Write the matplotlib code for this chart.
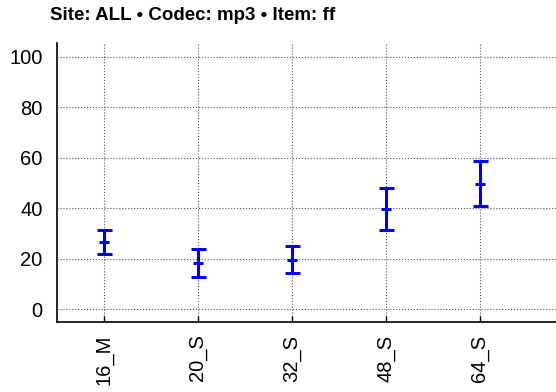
import numpy as np
import matplotlib.pyplot as plt

# data
labels = ["16_M", "20_S", "32_S", "48_S", "64_S"]
means  = [26.6, 18.2, 19.6, 39.6, 49.8]
lower  = [22.1, 12.9, 14.5, 31.6, 41.0]
upper  = [31.3, 24.0, 25.2, 48.1, 58.8]

plt.rcParams['font.family'] = ['Liberation Sans', 'DejaVu Sans']

x = np.arange(len(labels))
m = np.array(means)
err = [m - np.array(lower), np.array(upper) - m]

fig = plt.figure(figsize=(5.56, 3.92), dpi=100)
ax = fig.add_axes([57/556, 1 - 322/392, 1 - 57/556, (322 - 43)/392])

ax.errorbar(x, m, yerr=err, fmt='none', ecolor='#0000ff', elinewidth=2.2,
            capsize=5.4, capthick=2.2, zorder=3)
ax.plot(x, m, ls='none', marker='_', ms=6.5, mew=2.2, color='#0000ff', zorder=3)

ax.set_xlim(-0.5, 4.81)
ax.set_ylim(-5, 105.5)
ax.set_yticks([0, 20, 40, 60, 80, 100])
ax.set_xticks(x)
ax.set_xticklabels(labels, rotation=90)
ax.tick_params(labelsize=14.5, length=4, direction='in', width=1)
ax.tick_params(axis='y', length=0, pad=10.5)
ax.tick_params(axis='x', pad=9)
ax.grid(True, ls=':', color='#555555', lw=0.8)
ax.spines['top'].set_visible(False)
ax.spines['right'].set_visible(False)
ax.spines['left'].set_linewidth(1.2)
ax.spines['bottom'].set_linewidth(1.2)

fig.text(50/556, 1 - 16/392, "Site: ALL \u2022 Codec: mp3 \u2022 Item: ff",
         fontsize=13.5, fontweight='bold', va='center', ha='left')

fig.savefig("out.png", dpi=100)
